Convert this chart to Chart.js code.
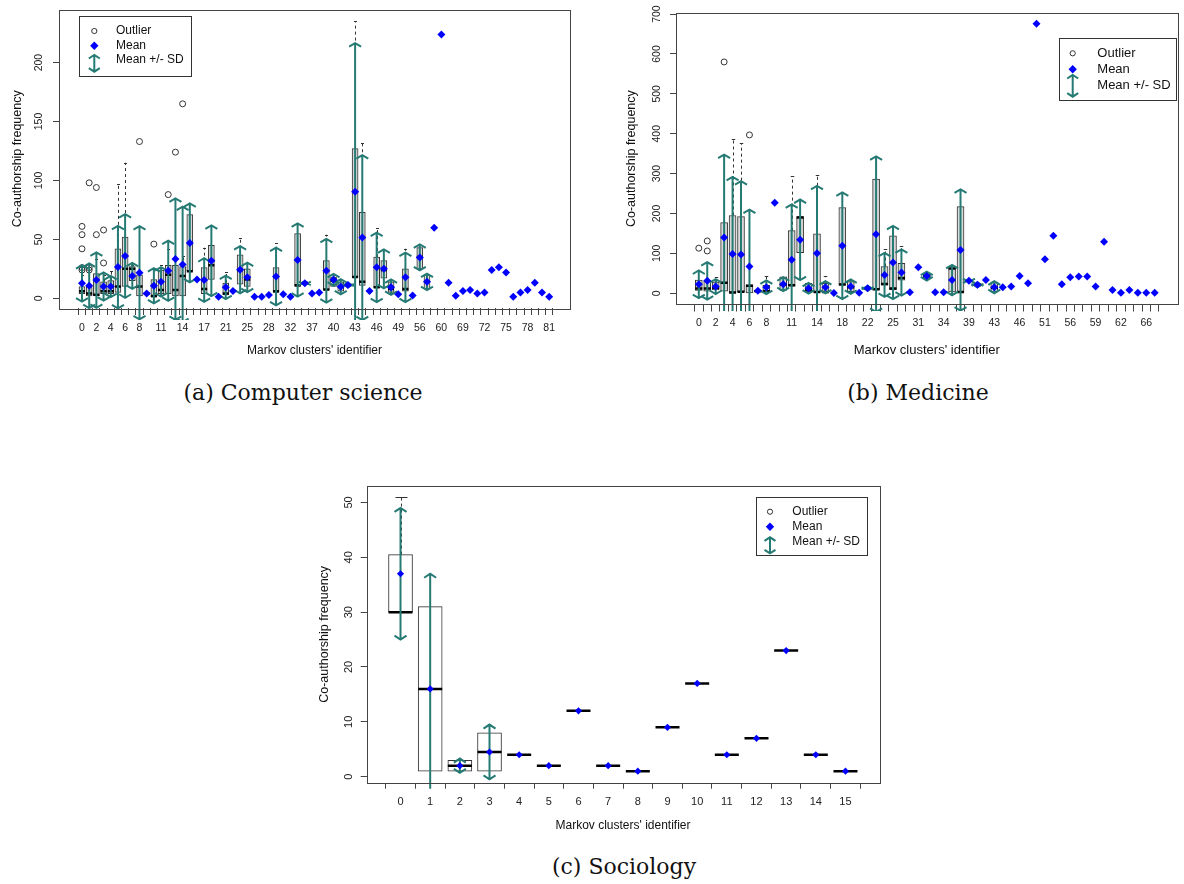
<!DOCTYPE html>
<html>
<head>
<meta charset="utf-8">
<script src="https://cdn.jsdelivr.net/npm/chart.js@4.4.1/dist/chart.umd.min.js"></script>
<style>
  body { margin: 0; background: #fff; width: 1184px; height: 884px; position: relative; overflow: hidden; }
  canvas { position: absolute; }
  .caption { position: absolute; font-family: 'DejaVu Serif', serif; font-size: 22px; color: #111; transform: translate(-50%, -50%); white-space: nowrap; }
</style>
</head>
<body>
<canvas id="cs-chart" width="590" height="365" style="left:0;top:0"></canvas>
<canvas id="med-chart" width="584" height="365" style="left:600px;top:0"></canvas>
<canvas id="soc-chart" width="600" height="370" style="left:300px;top:470px"></canvas>
<div class="caption" style="left:303px;top:392px">(a) Computer science</div>
<div class="caption" style="left:918px;top:392px">(b) Medicine</div>
<div class="caption" style="left:624px;top:866px">(c) Sociology</div>
<script>
// ---------- (a) Computer science ----------
const csIds = ['0', '1', '2', '3', '4', '5', '6', '7', '8', '9',
    '10', '11', '12', '13', '14', '15', '16', '17', '18', '19',
    '21', '22', '24', '25', '26', '27', '28', '29', '31', '32',
    '33', '35', '37', '38', '39', '40', '41', '42', '43', '44',
    '45', '46', '47', '48', '49', '52', '54', '56', '57', '58',
    '60', '62', '65', '69', '70', '71', '72', '73', '74', '75',
    '76', '77', '78', '79', '80', '81'];
const csTickLabels = ['0', '2', '4', '6', '8', '11', '14', '17', '21', '25', '28', '32',
    '37', '40', '43', '46', '49', '56', '60', '69', '72', '75', '78', '81'];
const csYTicks = [0, 50, 100, 150, 200];
const csMean = [12.7, 10.7, 15.5, 10, 10, 26.5, 36, 19, 21.7, 4.2,
    10.7, 14, 23.4, 33.3, 28.8, 47, 16, 15.5, 31.8, 1.4,
    9.3, 6.2, 24.3, 17.8, 1.4, 1.4, 2.8, 18.5, 3.4, 1.4,
    32.5, 12.7, 4.2, 5, 23.4, 15.7, 9.8, 11.3, 90.5, 51.5,
    6.2, 26.3, 25, 9.5, 3.4, 17.8, 2.5, 34.7, 14, 59.8,
    223.7, 13.2, 2.2, 6.2, 7, 4.2, 5, 24, 26.3, 22,
    1.4, 5, 7, 13.2, 5, 1.4];
const csSd = [15.5, 19, 23.5, 12, 9, 35, 35.5, 11, 39.5, null,
    15, 12.5, 25.5, 51.5, 49, 33.5, null, 18.5, 30, null,
    10, null, 20, 12.5, null, null, null, 24.5, null, null,
    31, 1.5, null, null, 27, 5, 6.5, 2, 126, 70,
    null, 29.5, 16.5, 6.5, null, 21, null, 11, 7, null,
    null, null, null, null, null, null, null, null, null, null,
    null, null, null, null, null, null];
const csBoxIdx = [0, 1, 2, 3, 4, 5, 6, 7, 8, 9, 10, 11, 12, 13, 14, 15, 17, 18, 20, 22,
    23, 27, 30, 31, 34, 35, 36, 38, 39, 41, 42, 43, 45, 47, 48];
const csQ1 = [4, 2, 2, 4, 4, 5, 10, 15, 2, 4, 1, 4, 4, 2, 2, 23, 4, 16, 3, 12,
    10, 5, 10, 12, 7, 10, 6, 18, 11, 9, 17, 5, 6, 25, 8];
const csMedian = [6, 4, 3, 6, 6, 10, 25, 25, 10, 4, 2, 7, 20, 7, 19, 23, 8, 28, 4, 24,
    16, 6, 11, 13, 7.5, 15, 10, 18, 14, 9.5, 24, 8, 8, 35, 14];
const csQ3 = [10, 10, 21, 14, 15, 42, 52, 27, 20, 4, 16, 24, 28, 28, 27, 71, 26, 45, 13, 37,
    25, 26, 55, 14, 32, 18, 14, 127, 73, 35, 32, 14, 25, 43, 20];
const csWhiskerIdx = [0, 2, 3, 4, 5, 6, 7, 11, 12, 14, 17, 20, 22, 27, 34, 38, 39, 41, 45];
const csWhiskerTop = [20, 33, 20, 23, 97, 115, 28, 28, 42, 36, 43, 22, 51, 47, 54, 235, 132, 60, 42];
const csOutlierIdx = [0, 0, 0, 0, 0, 1, 1, 1, 2, 2, 3, 3, 8, 10, 12, 13, 14];
const csOutlierVal = [61, 54, 42, 26, 24, 98, 26, 24, 94, 54, 58, 30, 133, 46, 88, 124, 165];

// ---------- (b) Medicine ----------
const mdIds = ['0', '1', '2', '3', '4', '5', '6', '7', '8', '9',
    '10', '11', '12', '13', '14', '15', '17', '18', '19', '21',
    '22', '23', '24', '25', '27', '29', '31', '32', '33', '34',
    '35', '37', '39', '40', '42', '43', '44', '45', '46', '48',
    '50', '51', '53', '54', '56', '57', '58', '59', '60', '61',
    '62', '63', '65', '66', '67'];
const mdTickLabels = ['0', '2', '4', '6', '8', '11', '14', '18', '22', '25', '31', '34',
    '39', '43', '46', '51', '56', '59', '62', '66'];
const mdYTicks = [0, 100, 200, 300, 400, 500, 600, 700];
const mdMean = [22.5, 31, 16.6, 139.5, 98.6, 97, 66.8, 6.5, 15, 227,
    22.6, 84, 134, 12.5, 100, 15, 0.5, 119, 16.6, 1.5,
    12.5, 148, 46, 77, 52, 2.5, 65, 43, 2.5, 2.5,
    33, 108.6, 31, 21, 33, 15, 15, 16.6, 43, 25,
    675.6, 85, 144, 22.6, 40, 42, 42, 16.6, 129, 8.3,
    1.5, 8.3, 1.5, 1.5, 1.5];
const mdSd = [34.5, 47, 18.5, 208, 193, 184, 143, null, 17, null,
    17.5, 139, 101, 13.5, 169, 15.5, null, 134, 18, null,
    6, 195, 55, 92, 58, null, null, 11, null, null,
    38, 152, 3, 6, null, 15, null, null, null, null,
    null, null, null, null, null, null, null, null, null, null,
    null, null, null, null, null];
const mdBoxIdx = [0, 1, 2, 3, 4, 5, 6, 7, 8, 10, 11, 12, 13, 14, 15, 17, 18, 20, 21, 22,
    23, 24, 27, 30, 31, 33, 35];
const mdQ1 = [7, 5, 8, 5, 2, 4, 1, 4, 3, 7, 18, 102, 4, 3, 2, 22, 4, 8, 8, 20,
    8, 33, 38, 3, 3, 18, 3];
const mdMedian = [12, 12, 14, 26, 2, 4, 19, 5, 5, 22, 20, 190, 8, 3, 3, 22, 15, 11, 10, 23,
    12, 38, 43, 62, 3, 21, 14];
const mdQ3 = [33, 30, 28, 177, 195, 192, 21, 8, 20, 41, 157, 192, 25, 149, 25, 215, 29, 15, 286, 67,
    144, 75, 48, 64, 217, 24, 28];
const mdWhiskerIdx = [2, 4, 5, 8, 11, 14, 15, 22, 24];
const mdWhiskerTop = [40, 387, 376, 43, 294, 297, 42, 111, 118];
const mdOutlierIdx = [0, 1, 1, 3, 6];
const mdOutlierVal = [113, 131, 106, 580, 397];

// ---------- (c) Sociology ----------
const soIds = ['0', '1', '2', '3', '4', '5', '6', '7', '8', '9', '10', '11', '12', '13', '14', '15'];
const soTickLabels = soIds;
const soYTicks = [0, 10, 20, 30, 40, 50];
const soMean = [37, 16, 2, 4.5, 4, 2, 12, 2, 1, 9, 17, 4, 7, 23, 4, 1];
const soSd = [12, 21, 1.3, 5, null, null, null, null, null, null, null, null, null, null, null, null];
const soBoxIdx = [0, 1, 2, 3, 4, 5, 6, 7, 8, 9, 10, 11, 12, 13, 14, 15];
const soQ1 = [30, 1, 1, 1, 4, 2, 12, 2, 1, 9, 17, 4, 7, 23, 4, 1];
const soMedian = [30, 16, 2, 4.5, 4, 2, 12, 2, 1, 9, 17, 4, 7, 23, 4, 1];
const soQ3 = [40.5, 31, 3, 8, 4, 2, 12, 2, 1, 9, 17, 4, 7, 23, 4, 1];
const soWhiskerIdx = [0];
const soWhiskerTop = [51];
const soOutlierIdx = [];
const soOutlierVal = [];

const FONT = "'Liberation Sans', Arial, sans-serif";
const TEAL = '#267a74';
const INK = '#333';

Chart.defaults.font.family = FONT;
Chart.defaults.color = '#222';

function drawSdArrow(ctx, x, yTop, yBot, head) {
    ctx.beginPath();
    ctx.moveTo(x, yTop);
    ctx.lineTo(x, yBot);
    ctx.moveTo(x - head.w, yTop + head.h);
    ctx.lineTo(x, yTop);
    ctx.lineTo(x + head.w, yTop + head.h);
    ctx.moveTo(x - head.w, yBot - head.h);
    ctx.lineTo(x, yBot);
    ctx.lineTo(x + head.w, yBot - head.h);
    ctx.stroke();
}

function drawLegend(ctx, lg) {
    ctx.save();
    ctx.fillStyle = '#fff';
    ctx.fillRect(lg.left, lg.top, lg.width, lg.height);
    ctx.strokeStyle = INK;
    ctx.lineWidth = 1;
    ctx.strokeRect(Math.round(lg.left) + 0.5, Math.round(lg.top) + 0.5, Math.round(lg.width), Math.round(lg.height));

    // outlier symbol
    ctx.beginPath();
    ctx.arc(lg.iconX, lg.rows[0], 2.6, 0, Math.PI * 2);
    ctx.stroke();

    // mean symbol
    const r = 4.2;
    ctx.fillStyle = '#0000ff';
    ctx.beginPath();
    ctx.moveTo(lg.iconX, lg.rows[1] - r);
    ctx.lineTo(lg.iconX + r, lg.rows[1]);
    ctx.lineTo(lg.iconX, lg.rows[1] + r);
    ctx.lineTo(lg.iconX - r, lg.rows[1]);
    ctx.closePath();
    ctx.fill();

    // mean +/- sd symbol
    ctx.strokeStyle = TEAL;
    ctx.lineWidth = 2;
    drawSdArrow(ctx, lg.iconX, lg.arrowTop, lg.arrowBottom, { w: 5.5, h: 3.5 });

    ctx.fillStyle = '#111';
    ctx.font = `${lg.fontSize}px ${FONT}`;
    ctx.textBaseline = 'middle';
    ctx.textAlign = 'left';
    ['Outlier', 'Mean', 'Mean +/- SD'].forEach((t, k) => ctx.fillText(t, lg.textX, lg.rows[k]));
    ctx.restore();
}

function boxplotLayer(d, look) {
    return {
        id: 'boxplotLayer',
        beforeDatasetDraw(chart, args) {
            if (args.index !== 3) return;
            const { ctx, chartArea: a, scales: { x, y } } = chart;
            ctx.save();
            ctx.beginPath();
            ctx.rect(a.left, a.top, a.right - a.left, a.bottom - a.top + look.clipBelow);
            ctx.clip();

            // upper whiskers (dashed) with staple
            ctx.strokeStyle = INK;
            ctx.lineWidth = 1;
            d.whiskerIdx.forEach((i, k) => {
                const q3 = d.q3[d.boxIdx.indexOf(i)];
                const px = Math.round(x.getPixelForValue(i)) + 0.5;
                const top = y.getPixelForValue(d.whiskerTop[k]);
                ctx.setLineDash([3, 3]);
                ctx.beginPath();
                ctx.moveTo(px, y.getPixelForValue(q3));
                ctx.lineTo(px, top);
                ctx.stroke();
                ctx.setLineDash([]);
                ctx.beginPath();
                ctx.moveTo(px - look.boxWidth / 4, Math.round(top) + 0.5);
                ctx.lineTo(px + look.boxWidth / 4, Math.round(top) + 0.5);
                ctx.stroke();
            });

            // mean +/- SD arrows
            ctx.strokeStyle = TEAL;
            ctx.lineWidth = look.arrowWidth;
            d.mean.forEach((m, i) => {
                const s = d.sd[i];
                if (m === null || s === null) return;
                drawSdArrow(ctx, x.getPixelForValue(i), y.getPixelForValue(m + s), y.getPixelForValue(m - s), look.head);
            });
            ctx.restore();
        },
        afterDraw(chart) {
            const { ctx, chartArea: a, scales: { y } } = chart;
            ctx.save();
            // frame around the plot region
            ctx.strokeStyle = '#444';
            ctx.lineWidth = 1;
            ctx.strokeRect(Math.round(a.left) + 0.5, Math.round(a.top) + 0.5,
                Math.round(a.right - a.left), Math.round(a.bottom - a.top));

            // y tick labels, written parallel to the axis
            ctx.fillStyle = '#222';
            ctx.font = `${look.tickFont}px ${FONT}`;
            ctx.textAlign = 'center';
            ctx.textBaseline = 'middle';
            y.ticks.forEach(t => {
                ctx.save();
                ctx.translate(look.yLabelX, y.getPixelForValue(t.value));
                ctx.rotate(-Math.PI / 2);
                ctx.fillText(String(t.value), 0, 0);
                ctx.restore();
            });
            ctx.restore();
            drawLegend(ctx, look.legend);
        }
    };
}

function makePanel(canvasId, d, look) {
    const boxes = [];
    const medians = [];
    d.boxIdx.forEach((i, k) => {
        if (d.q3[k] > d.q1[k]) boxes.push({ x: i, y: [d.q1[k], d.q3[k]] });
        medians.push({ x: i, y: d.median[k] });
    });
    const means = [];
    d.mean.forEach((v, i) => { if (v !== null) means.push({ x: i, y: v }); });
    const outliers = d.outIdx.map((i, k) => ({ x: i, y: d.outVal[k] }));

    return new Chart(document.getElementById(canvasId), {
        type: 'scatter',
        data: {
            datasets: [
                {
                    type: 'bar',
                    label: 'Box',
                    data: boxes,
                    backgroundColor: look.boxFill,
                    borderColor: INK,
                    borderWidth: 1,
                    borderSkipped: false,
                    barThickness: look.boxWidth,
                    grouped: false,
                    order: 3
                },
                {
                    label: 'Median',
                    data: medians,
                    pointStyle: 'line',
                    pointRadius: look.boxWidth / 2,
                    borderColor: '#000',
                    borderWidth: look.medianWidth,
                    order: 2
                },
                {
                    label: 'Outlier',
                    data: outliers,
                    pointStyle: 'circle',
                    pointRadius: 3,
                    backgroundColor: 'rgba(0,0,0,0)',
                    borderColor: INK,
                    borderWidth: 1,
                    order: 1
                },
                {
                    label: 'Mean',
                    data: means,
                    pointStyle: 'rectRot',
                    pointRadius: look.meanRadius,
                    backgroundColor: '#0000ff',
                    borderWidth: 0,
                    order: 0
                }
            ]
        },
        options: {
            responsive: false,
            animation: false,
            devicePixelRatio: 1,
            events: [],
            layout: { padding: { top: look.padTop, right: look.padRight, left: 0, bottom: 0 } },
            plugins: { legend: { display: false }, tooltip: { enabled: false } },
            scales: {
                x: {
                    type: 'linear',
                    bounds: 'data',
                    min: look.xMin,
                    max: look.xMax,
                    offset: false,
                    afterBuildTicks: scale => { scale.ticks = d.ids.map((_, i) => ({ value: i })); },
                    afterFit: scale => { scale.height = look.xAxisHeight; },
                    grid: { drawOnChartArea: false, drawTicks: true, tickLength: look.tickLen, color: '#444' },
                    border: { display: false },
                    ticks: {
                        autoSkip: false,
                        maxRotation: 0,
                        minRotation: 0,
                        padding: look.xTickPad,
                        font: { size: look.tickFont },
                        callback: value => (d.tickLabels.includes(d.ids[value]) ? d.ids[value] : '')
                    },
                    title: {
                        display: true,
                        text: "Markov clusters' identifier",
                        font: { size: look.xTitleFont },
                        color: '#111',
                        padding: { top: 0, bottom: look.xTitlePad }
                    }
                },
                y: {
                    type: 'linear',
                    bounds: 'data',
                    min: look.yMin,
                    max: look.yMax,
                    afterBuildTicks: scale => { scale.ticks = d.yTicks.map(v => ({ value: v })); },
                    afterFit: scale => { scale.width = look.yAxisWidth; },
                    grid: { drawOnChartArea: false, drawTicks: true, tickLength: 6, color: '#444' },
                    border: { display: false },
                    ticks: { display: false },
                    title: {
                        display: true,
                        text: 'Co-authorship frequency',
                        font: { size: look.yTitleFont },
                        color: '#111',
                        padding: { top: look.yTitlePad, bottom: 0 }
                    }
                }
            }
        },
        plugins: [boxplotLayer(d, look)]
    });
}

makePanel('cs-chart', {
    ids: csIds, tickLabels: csTickLabels, yTicks: csYTicks,
    mean: csMean, sd: csSd,
    boxIdx: csBoxIdx, q1: csQ1, median: csMedian, q3: csQ3,
    whiskerIdx: csWhiskerIdx, whiskerTop: csWhiskerTop,
    outIdx: csOutlierIdx, outVal: csOutlierVal
}, {
    yAxisWidth: 59, xAxisHeight: 57, padTop: 9.5, padRight: 20,
    xMin: -3.2, xMax: 67.9, yMin: -8.2, yMax: 245,
    boxWidth: 6, boxFill: '#d9d9d9', medianWidth: 2.5, meanRadius: 4,
    tickFont: 10.5, xTitleFont: 12, yTitleFont: 12.5,
    xTickPad: 6.5, xTitlePad: 7, yTitlePad: 10.5, yLabelX: 39, tickLen: 7,
    clipBelow: 12, arrowWidth: 2, head: { w: 6, h: 3.5 },
    legend: { left: 79, top: 16, width: 112, height: 60, iconX: 94.3, textX: 116,
        rows: [31, 45.7, 60], arrowTop: 55, arrowBottom: 71.7, fontSize: 12 }
});

makePanel('med-chart', {
    ids: mdIds, tickLabels: mdTickLabels, yTicks: mdYTicks,
    mean: mdMean, sd: mdSd,
    boxIdx: mdBoxIdx, q1: mdQ1, median: mdMedian, q3: mdQ3,
    whiskerIdx: mdWhiskerIdx, whiskerTop: mdWhiskerTop,
    outIdx: mdOutlierIdx, outVal: mdOutlierVal
}, {
    yAxisWidth: 76, xAxisHeight: 61, padTop: 13.3, padRight: 0,
    xMin: -2.7, xMax: 56.7, yMin: -27, yMax: 702,
    boxWidth: 7, boxFill: '#d9d9d9', medianWidth: 2.5, meanRadius: 4,
    tickFont: 10.5, xTitleFont: 13, yTitleFont: 12.5,
    xTickPad: 5.5, xTitlePad: 7.2, yTitlePad: 24.5, yLabelX: 57.3, tickLen: 7.5,
    clipBelow: 7, arrowWidth: 2, head: { w: 6, h: 3.5 },
    legend: { left: 459, top: 37.7, width: 117, height: 62.3, iconX: 472.7, textX: 497.3,
        rows: [53.3, 69.3, 85], arrowTop: 75, arrowBottom: 96.7, fontSize: 13 }
});

makePanel('soc-chart', {
    ids: soIds, tickLabels: soTickLabels, yTicks: soYTicks,
    mean: soMean, sd: soSd,
    boxIdx: soBoxIdx, q1: soQ1, median: soMedian, q3: soQ3,
    whiskerIdx: soWhiskerIdx, whiskerTop: soWhiskerTop,
    outIdx: soOutlierIdx, outVal: soOutlierVal
}, {
    yAxisWidth: 66.7, xAxisHeight: 57.3, padTop: 16, padRight: 20.7,
    xMin: -1.14, xMax: 16.14, yMin: -1.1, yMax: 53,
    boxWidth: 24, boxFill: '#ffffff', medianWidth: 2.5, meanRadius: 3.6,
    tickFont: 11, xTitleFont: 12, yTitleFont: 12.5,
    xTickPad: 6.4, xTitlePad: 6.8, yTitlePad: 17.5, yLabelX: 49.3, tickLen: 6,
    clipBelow: 6, arrowWidth: 2, head: { w: 6, h: 4 },
    legend: { left: 456, top: 27.3, width: 110.7, height: 58.4, iconX: 470, textX: 492.3,
        rows: [41.7, 56.7, 71.7], arrowTop: 67.3, arrowBottom: 83.3, fontSize: 12 }
});
</script>
</body>
</html>
